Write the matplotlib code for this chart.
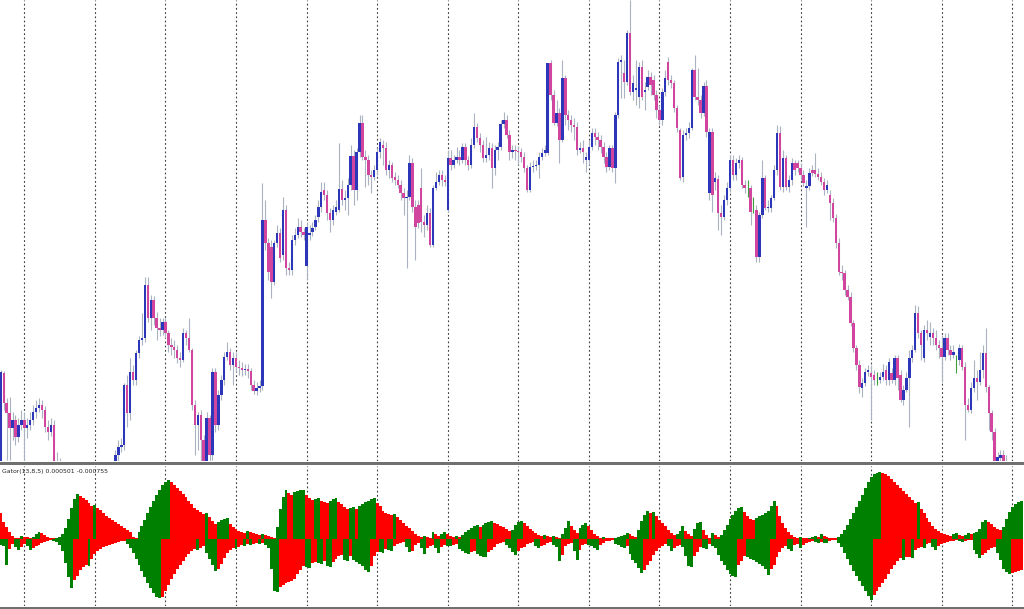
import matplotlib
matplotlib.use("Agg")
import matplotlib.pyplot as plt
import numpy as np
from matplotlib.patches import Rectangle

# H1 candles, price in points (bar 0 = leftmost visible bar)
opens = [
    25, 127, 97, 87, 72, 80, 63, 75, 80, 72, 75, 80, 88, 92, 95, 90, 73, 68, 75, 30,
    38, 20, 10, -5, -15, -25, -20, -22, -15, -18, -10, -5, -8, 0, 5, 2, 10, 16, 24, 30,
    45, 53, 55, 115, 87, 128, 120, 147, 160, 162, 215, 182, 200, 182, 172, 170, 178, 167, 155, 153,
    150, 142, 140, 167, 162, 150, 95, 75, 85, 60, 38, 82, 45, 128, 75, 105, 120, 143, 148, 135,
    142, 133, 132, 130, 131, 129, 115, 109, 112, 114, 280, 257, 253, 218, 257, 267, 245, 290, 232, 230,
    260, 265, 273, 268, 234, 265, 268, 273, 283, 293, 310, 305, 287, 280, 288, 290, 311, 300, 302, 315,
    344, 310, 348, 377, 343, 340, 325, 323, 330, 348, 355, 352, 330, 335, 323, 320, 315, 307, 302, 303,
    337, 293, 295, 312, 278, 275, 287, 255, 312, 318, 325, 320, 290, 342, 335, 340, 343, 340, 353, 340,
    335, 355, 373, 362, 355, 342, 345, 352, 332, 350, 353, 376, 380, 365, 348, 350, 349, 348, 343, 332,
    310, 333, 334, 335, 343, 347, 347, 437, 405, 377, 387, 360, 422, 385, 380, 375, 373, 350, 352, 340,
    340, 353, 367, 363, 360, 353, 343, 333, 352, 332, 385, 438, 427, 418, 467, 408, 410, 403, 433, 408,
    413, 423, 420, 405, 390, 380, 408, 438, 420, 417, 392, 370, 323, 365, 367, 372, 430, 403, 400, 387,
    414, 307, 368, 318, 321, 287, 283, 300, 312, 340, 325, 337, 340, 315, 315, 312, 295, 290, 243, 285,
    322, 292, 292, 302, 330, 367, 313, 342, 313, 320, 337, 337, 332, 325, 312, 314, 330, 330, 326, 323,
    318, 310, 305, 297, 282, 257, 228, 227, 210, 203, 177, 152, 135, 112, 117, 128, 127, 125, 122, 120,
    123, 130, 120, 127, 120, 142, 125, 100, 110, 122, 142, 150, 187, 167, 142, 170, 163, 167, 162, 155,
    152, 143, 162, 150, 145, 132, 140, 152, 133, 95, 90, 112, 122, 118, 130, 147, 113, 87, 68, 37,
    42, 45, 37, 30, 25, 22, 15, 18,
]
highs = [
    130, 129, 102, 103, 88, 85, 82, 90, 88, 82, 88, 95, 100, 102, 100, 94, 80, 82, 80, 48,
    42, 24, 15, 0, -10, -15, -14, -10, -10, -5, 0, 0, 5, 10, 10, 15, 22, 30, 38, 50,
    60, 62, 117, 125, 142, 135, 150, 164, 187, 223, 223, 205, 204, 188, 182, 182, 182, 170, 162, 160,
    155, 148, 172, 170, 182, 152, 100, 88, 90, 65, 88, 85, 132, 132, 110, 125, 148, 158, 152, 148,
    148, 140, 138, 136, 136, 132, 120, 118, 120, 317, 300, 262, 260, 260, 275, 272, 303, 295, 238, 265,
    272, 282, 280, 272, 278, 275, 278, 285, 300, 318, 318, 310, 292, 295, 300, 357, 320, 310, 322, 355,
    350, 352, 385, 385, 350, 345, 330, 335, 352, 362, 360, 358, 340, 338, 328, 325, 320, 312, 310, 345,
    342, 300, 300, 332, 285, 295, 292, 315, 328, 330, 330, 325, 350, 350, 345, 353, 350, 357, 357, 344,
    362, 387, 377, 367, 360, 363, 358, 357, 355, 358, 380, 388, 385, 370, 355, 355, 354, 352, 348, 335,
    338, 340, 340, 348, 352, 355, 437, 440, 410, 400, 392, 440, 425, 390, 385, 382, 378, 358, 360, 348,
    360, 372, 372, 368, 365, 358, 348, 355, 355, 388, 442, 445, 440, 470, 500, 425, 440, 438, 440, 418,
    430, 428, 425, 410, 395, 412, 430, 443, 425, 420, 395, 372, 370, 372, 378, 432, 445, 432, 405, 418,
    420, 372, 372, 328, 325, 295, 305, 318, 345, 345, 342, 345, 343, 320, 320, 315, 303, 295, 288, 340,
    325, 300, 305, 335, 375, 374, 350, 345, 325, 342, 340, 340, 337, 330, 320, 332, 335, 347, 332, 328,
    322, 320, 310, 302, 286, 262, 235, 230, 215, 208, 180, 155, 140, 122, 132, 135, 135, 130, 128, 128,
    136, 135, 142, 132, 145, 145, 130, 115, 128, 150, 155, 195, 194, 170, 175, 180, 178, 172, 170, 160,
    165, 167, 167, 155, 155, 145, 156, 155, 138, 102, 118, 140, 130, 148, 155, 172, 115, 90, 72, 48,
    50, 50, 45, 38, 32, 28, 24, 22,
]
lows = [
    20, 90, 40, 40, 60, 55, 58, 70, 38, 62, 70, 75, 82, 88, 82, 68, 60, 64, 25, 22,
    15, 4, -10, -22, -30, -32, -28, -27, -24, -22, -15, -14, -12, -5, -3, -2, 5, 12, 20, 25,
    38, 48, 50, 73, 80, 115, 115, 142, 155, 158, 178, 170, 175, 160, 164, 165, 162, 148, 145, 142,
    137, 133, 138, 155, 148, 90, 45, 50, 38, 30, 30, 35, 40, 68, 70, 100, 115, 140, 130, 115,
    128, 125, 124, 125, 122, 110, 106, 105, 108, 110, 250, 220, 202, 215, 253, 238, 240, 225, 225, 225,
    255, 262, 263, 260, 220, 260, 264, 270, 278, 288, 300, 280, 268, 275, 285, 288, 295, 290, 285, 310,
    295, 300, 343, 340, 313, 315, 307, 320, 325, 342, 335, 325, 322, 318, 315, 312, 300, 285, 232, 300,
    288, 240, 272, 268, 263, 270, 253, 253, 310, 315, 314, 314, 288, 330, 332, 337, 335, 337, 335, 330,
    332, 352, 358, 348, 338, 338, 340, 312, 325, 340, 350, 372, 362, 340, 342, 340, 335, 338, 328, 308,
    308, 328, 330, 322, 340, 344, 345, 400, 375, 374, 337, 358, 375, 370, 368, 360, 345, 347, 337, 328,
    335, 350, 355, 350, 347, 337, 328, 330, 328, 317, 382, 402, 402, 415, 405, 400, 395, 392, 400, 390,
    410, 405, 400, 382, 375, 375, 404, 415, 412, 388, 368, 320, 318, 360, 362, 370, 400, 395, 382, 384,
    363, 300, 288, 310, 270, 265, 280, 295, 308, 320, 320, 332, 312, 307, 303, 275, 287, 238, 238, 282,
    290, 288, 288, 300, 325, 310, 308, 310, 308, 315, 325, 328, 320, 314, 273, 310, 324, 323, 320, 315,
    305, 307, 280, 278, 252, 225, 220, 205, 200, 174, 148, 130, 107, 103, 114, 124, 80, 115, 115, 117,
    120, 115, 115, 117, 115, 110, 98, 95, 108, 73, 138, 148, 162, 140, 138, 160, 155, 155, 150, 142,
    118, 140, 145, 140, 142, 127, 135, 130, 60, 88, 87, 108, 100, 115, 122, 108, 70, 60, 30, 32,
    37, 30, 22, 18, 15, 10, 8, 5,
]
closes = [
    128, 97, 87, 72, 80, 63, 75, 80, 72, 75, 80, 88, 92, 95, 90, 73, 68, 75, 30, 38,
    20, 10, -5, -15, -25, -20, -22, -15, -18, -10, -5, -8, 0, 5, 2, 10, 16, 24, 30, 45,
    53, 55, 115, 87, 128, 120, 147, 160, 162, 215, 182, 200, 182, 172, 170, 178, 167, 155, 153, 150,
    142, 140, 167, 162, 150, 95, 75, 85, 60, 38, 82, 45, 128, 75, 105, 120, 143, 148, 135, 142,
    133, 132, 130, 131, 129, 115, 109, 112, 114, 280, 257, 228, 218, 257, 267, 242, 290, 232, 230, 260,
    265, 273, 268, 265, 273, 267, 272, 280, 293, 308, 305, 287, 280, 290, 293, 311, 300, 302, 315, 344,
    310, 348, 377, 343, 340, 325, 323, 330, 348, 358, 352, 330, 335, 322, 320, 315, 307, 302, 303, 337,
    293, 273, 277, 278, 275, 287, 255, 312, 318, 325, 320, 318, 342, 335, 340, 343, 340, 353, 340, 335,
    355, 373, 362, 355, 342, 345, 352, 332, 350, 353, 376, 380, 365, 348, 350, 349, 348, 343, 332, 310,
    333, 334, 335, 343, 347, 350, 437, 405, 377, 387, 360, 422, 385, 380, 375, 373, 350, 352, 348, 343,
    353, 367, 363, 360, 353, 343, 333, 352, 332, 385, 438, 440, 418, 467, 408, 417, 412, 433, 403, 410,
    423, 415, 405, 390, 380, 408, 422, 420, 417, 392, 372, 322, 365, 367, 372, 430, 403, 400, 387, 414,
    368, 368, 305, 322, 287, 283, 300, 312, 340, 325, 337, 340, 315, 312, 315, 288, 295, 243, 285, 322,
    292, 293, 302, 330, 367, 313, 342, 313, 320, 337, 330, 332, 325, 317, 314, 327, 327, 326, 323, 318,
    310, 315, 297, 282, 257, 228, 227, 210, 203, 177, 152, 135, 113, 117, 128, 130, 123, 120, 122, 123,
    128, 120, 138, 120, 142, 122, 100, 110, 122, 142, 150, 187, 167, 155, 170, 167, 167, 162, 155, 152,
    143, 162, 150, 145, 148, 132, 152, 133, 95, 90, 112, 122, 118, 130, 147, 113, 87, 68, 37, 43,
    45, 37, 30, 25, 22, 15, 18, 10,
]

# Gator(13,8,5) histograms, bars -1 .. 347 (bar -1 sits just left of the window)
gator_upper = [
    30,
    26, 17, 12, 7, 3, 1, 1, 3, 2, 1.5, 1, 2, 5, 7, 6, 4, 2, 1, 0.5, 1,
    2, 5, 11, 20, 31, 40, 45, 43, 41, 39, 36, 33, 34, 31, 29, 26, 23, 21, 19, 17,
    15, 13, 11, 9, 7, 2, 1, 7, 13, 19, 26, 32, 38, 44, 49, 54, 57, 59, 57, 54,
    51, 48, 45, 42, 38, 35, 31, 29, 27, 25, 26, 22, 18, 15, 17, 19, 20, 21, 15, 12,
    10, 8, 7, 6, 8, 7, 6, 5, 4, 5, 4, 3, 2, 1, 12, 30, 42, 49, 46, 44,
    47, 48, 48.5, 49, 44, 41, 39, 40, 41, 38, 37, 36, 38, 40, 41, 37, 35, 32, 30, 31,
    32, 30, 33, 35, 37, 38, 40, 41, 36, 33, 28, 26, 25, 24, 25, 22, 19, 16, 13, 11,
    8, 5, 3, 2, 3, 2, 1, 7, 5, 3, 5, 7, 5, 3, 2, 3, 2, 4, 7, 9,
    11, 13, 14, 12, 14, 16, 17, 18, 16, 15, 13, 12, 10, 8, 9, 14, 17, 18, 16, 13,
    10, 8, 6, 4, 3, 4, 3, 2, 3, 2, 1, 5, 11, 18, 13, 9, 6, 11, 14, 16,
    13, 9, 5, 3, 1, 2, 1, 0.7, 0.5, 1, 2, 3, 4, 6, 5, 3, 2, 9, 18, 24,
    28, 26, 27, 23, 19, 16, 13, 9, 6, 4, 5, 8, 13, 8, 5, 3, 10, 16, 17, 9,
    4, 1, 6, 4, 2, 4, 9, 14, 20, 24, 28, 31, 32, 27, 23, 20, 19, 21, 23, 24,
    26, 28, 33, 38, 33, 23, 16, 11, 7, 4, 2, 1, 1.5, 1, 0.5, 1, 2, 3, 2, 5,
    3, 2, 1, 0.5, 0.3, 2, 5, 9, 14, 20, 26, 32, 38, 44, 51, 57, 62, 65, 66, 67,
    66, 65, 63, 60, 57, 54, 51, 48, 45, 42, 39, 36, 37, 30, 26, 21, 17, 13, 10, 8,
    6, 5, 4, 3, 5, 6, 4, 3, 4, 6, 5, 6, 7, 10, 17, 19, 17, 15, 12, 10,
    9, 12, 20, 27, 32, 35, 37, 37.5,
]
gator_lower_abs = [
    4,
    6, 7, 26, 10, 5, 8, 11, 8, 5, 7, 11, 9, 7, 6, 4, 3, 2, 1, 2, 3,
    6, 12, 24, 38, 49, 41, 37, 31, 28, 26, 27, 20, 15, 12, 10, 8, 7, 6, 5, 4,
    3, 2.5, 2, 5, 9, 14, 20, 26, 32, 38, 44, 49, 54, 58, 59.5, 58, 52, 46, 40, 35,
    30, 26, 22, 18, 15, 12, 10, 11, 9, 7, 14, 20, 26, 32, 30, 25, 19, 14, 11, 9,
    10, 8, 6, 7, 5, 6, 5, 4, 5, 4, 6, 9, 30, 52, 53, 48, 46, 44, 43, 42,
    40, 35, 31, 27, 28, 29, 24, 23, 24, 25, 22, 27, 28, 23, 20, 17, 16, 21, 22, 17,
    21, 23, 25, 27, 31, 33, 27, 17, 13, 13.5, 14, 10, 11, 12, 7, 5, 4, 3.5, 8, 13,
    12, 6, 4, 9, 15, 9, 7, 6, 9, 14, 8, 6, 7, 7.5, 6, 5.5, 10, 12, 14, 15,
    13, 12, 15, 17, 18, 18.5, 13, 11, 8, 5, 4, 3, 6, 9, 13, 16, 12, 9, 8, 5,
    4, 3, 7, 9, 7, 6, 4, 3.5, 6, 8, 22, 16, 7, 5, 4, 12, 21, 11, 6, 5,
    6, 7, 9, 11, 6, 4, 2.5, 2, 1.5, 5, 6, 8, 9, 7, 15, 21, 24, 29, 34, 31,
    26, 22, 16, 12, 9, 7, 5, 7, 12, 9, 7, 6, 8, 17, 27, 28, 17, 13, 8, 9,
    10, 5, 7, 9, 16, 22, 26, 31, 35, 37, 38, 26, 22, 17, 18, 20, 21, 23, 25, 27,
    30, 36, 30, 26, 18, 13, 9, 7, 10, 12, 6, 5, 9, 6, 4, 3, 2, 3, 4, 3,
    4, 4.5, 2, 1.8, 1.5, 4, 8, 14, 20, 26, 32, 37, 42, 47, 52, 57, 61, 56, 52, 48,
    44, 40, 35, 30, 26, 22, 19, 21, 18, 18, 19, 11, 9, 8, 9, 5, 4, 8, 11, 7,
    5, 4, 3, 2.5, 2, 1.5, 2, 3, 2, 1.5, 1, 11, 15, 19, 16, 14, 11, 9, 8, 14,
    21, 30, 33, 35, 34, 33, 32, 31,
]
gator_label = "Gator(13,8,5) 0.000501 -0.000755"
bars_per_day = 24
first_day_bar = 8

W, H = 1024, 609
BULL = "#2b36b8"
BEAR = "#d2459f"
WICK = "#a9b3c1"
DOJI = "#3c9e3c"
GREEN = "#008000"
RED = "#ff0000"
SEP = "#404040"


def px_axes(fig, top, bottom):
    ax = fig.add_axes([0, 1 - bottom / H, 1, (bottom - top) / H])
    ax.set_axis_off()
    return ax


fig = plt.figure(figsize=(W / 100, H / 100), dpi=100)
fig.patch.set_facecolor("white")

ax = px_axes(fig, 0, 461)
ax2 = px_axes(fig, 466, 606)

o, h, l, c = (np.array(v, dtype=float) for v in (opens, highs, lows, closes))
x = np.arange(len(o))
n_bars = 348
xlim = (-0.27, n_bars)

day_bars = np.arange(first_day_bar, n_bars, bars_per_day)
for a in (ax, ax2):
    for d in day_bars:
        a.axvline(d, color=SEP, lw=0.8, ls=(0, (1.6, 2.2)), zorder=1)
    a.set_xlim(*xlim)

# candles
up = c > o
dn = c < o
doji = c == o
ax.vlines(x[~doji], l[~doji], h[~doji], color=WICK, lw=0.8, zorder=2)
ax.vlines(x[doji], l[doji], h[doji], color=DOJI, lw=0.8, zorder=3)
lo_body = np.minimum(o, c)
body = np.maximum(np.abs(c - o), 1.5)
ax.bar(x[up], body[up], bottom=lo_body[up], width=0.82, color=BULL, lw=0, zorder=3)
ax.bar(x[dn], body[dn], bottom=lo_body[dn], width=0.82, color=BEAR, lw=0, zorder=3)
ax.set_ylim(39, 500)

# gator histogram: green when the bar grows, red when it shrinks
gu = np.array(gator_upper, dtype=float)
gl = -np.array(gator_lower_abs, dtype=float)
gx = np.arange(-1, len(gu) - 1)
grow_u = np.r_[False, gu[1:] > gu[:-1]]
grow_l = np.r_[False, gl[1:] < gl[:-1]]
ax2.bar(gx, gu, width=1.0, color=np.where(grow_u, GREEN, RED), lw=0, antialiased=False, zorder=2)
ax2.bar(gx, gl, width=1.0, color=np.where(grow_l, GREEN, RED), lw=0, antialiased=False, zorder=2)
ax2.set_ylim(-67.5, 72.5)

# panel separator and bottom edge
fig.add_artist(Rectangle((0, 1 - 465 / H), 1, 3 / H, transform=fig.transFigure,
                         color="#707070", lw=0))
fig.add_artist(Rectangle((0, 0), 1, 2 / H, transform=fig.transFigure,
                         color="#707070", lw=0))

fig.text(2 / W, 1 - 472 / H, gator_label, fontsize=4.4, family="DejaVu Sans",
         color="#222222", ha="left", va="center")

fig.savefig("out.png", dpi=100)
